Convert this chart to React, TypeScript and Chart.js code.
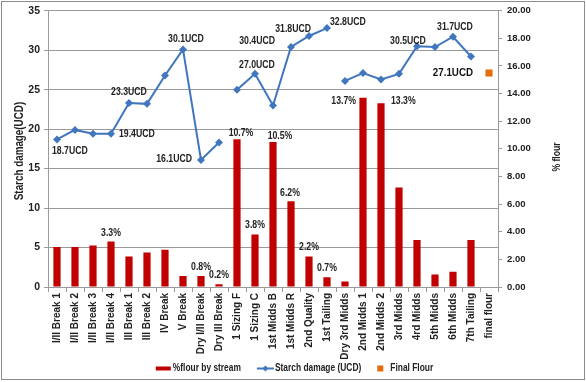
import React, { useEffect, useRef } from 'react';
import { Chart, registerables } from 'chart.js';
Chart.register(...registerables);

const categories = [
  'I/II Break 1', 'I/II Break 2', 'I/II Break 3', 'I/II Break 4', 'III Break 1', 'III Break 2',
  'IV Break', 'V Break', 'Dry I/II Break', 'Dry III Break', '1 Sizing F', '1 Sizing C',
  '1st Midds B', '1st Midds R', '2nd Quality', '1st Tailing', 'Dry 3rd Midds', '2nd Midds 1',
  '2nd Midds 2', '3rd Midds', '4rd Midds', '5th Midds', '6th Midds', '7th Tailing', 'final flour',
];

const flourPct = [2.9, 2.9, 3.0, 3.3, 2.2, 2.5, 2.7, 0.8, 0.8, 0.2, 10.7, 3.8, 10.5, 6.2, 2.2, 0.7, 0.4, 13.7, 13.3, 7.2, 3.4, 0.9, 1.1, 3.4, null];
const starchDamage = [18.7, 19.9, 19.4, 19.4, 23.3, 23.2, 26.8, 30.1, 16.1, 18.3, 25.0, 27.0, 23.0, 30.4, 31.8, 32.8, 26.1, 27.1, 26.3, 27.0, 30.5, 30.4, 31.7, 29.2, null];
const finalFlour = [null, null, null, null, null, null, null, null, null, null, null, null, null, null, null, null, null, null, null, null, null, null, null, null, 27.1];
const lineBreaksAfter = [9, 15];

const flourLabels = ['', '', '', '3.3%', '', '', '', '', '0.8%', '0.2%', '10.7%', '3.8%', '10.5%', '6.2%', '2.2%', '0.7%', '', '13.7%', '13.3%', '', '', '', '', '', ''];
const starchLabels = ['18.7UCD', '', '', '19.4UCD', '23.3UCD', '', '', '30.1UCD', '16.1UCD', '', '', '27.0UCD', '', '30.4UCD', '31.8UCD', '32.8UCD', '', '', '', '', '30.5UCD', '', '31.7UCD', '', ''];
const finalFlourLabels = ['', '', '', '', '', '', '', '', '', '', '', '', '', '', '', '', '', '', '', '', '', '', '', '', '27.1UCD'];

const leftTicksMax = 35;
const rightTicksMax = 20;
const leftTitle = 'Starch damage(UCD)';
const rightTitle = '% flour';

// label placement (offsets from the mark, alignment)
type Place = [number, number, CanvasTextAlign];
const flourPlace: Record<number, Place> = {
  3: [0, -8, 'center'], 8: [0, -9, 'center'], 9: [0, -9, 'center'], 10: [4, -6, 'center'],
  11: [0, -9, 'center'], 12: [7, -6, 'center'], 13: [-1, -8, 'center'], 14: [0, -9, 'center'],
  15: [0, -9, 'center'], 17: [-7, 4, 'right'], 18: [10, -2, 'left'],
};
const starchPlace: Record<number, Place> = {
  0: [-5, 12, 'left'], 3: [8, 0, 'left'], 4: [0, -11, 'center'], 7: [3, -10, 'center'],
  8: [-9, -1, 'right'], 11: [2, -9, 'center'], 13: [-16, -6, 'right'], 14: [2, -7, 'right'],
  15: [3, -6, 'left'], 20: [-9, -5, 'center'], 22: [2, -10, 'center'],
};
const finalPlace: Record<number, Place> = { 24: [-16, 0, 'right'] };

const FONT = "'Liberation Sans', Arial, sans-serif";
const BAR_COLOR = '#C00000';
const LINE_COLOR = '#3F76BE';
const SQUARE_COLOR = '#E46C0A';
const GRID = '#9a9a9a';
const TEXT = '#222222';

function narrowText(ctx: CanvasRenderingContext2D, t: string, x: number, y: number, sx: number, rot = 0) {
  ctx.save();
  ctx.translate(x, y);
  if (rot) ctx.rotate(rot);
  ctx.scale(sx, 1);
  ctx.fillText(t, 0, 0);
  ctx.restore();
}

const overlayPlugin = {
  id: 'overlay',
  beforeDraw(chart: any) {
    const { ctx, width, height } = chart;
    ctx.save();
    ctx.fillStyle = '#ffffff';
    ctx.fillRect(0, 0, width, height);
    ctx.restore();
  },
  afterDatasetsDraw(chart: any) {
    const ctx = chart.ctx as CanvasRenderingContext2D;
    ctx.save();
    ctx.fillStyle = TEXT;
    ctx.textBaseline = 'middle';
    ctx.font = `bold 10px ${FONT}`;
    const draw = (metaIdx: number, labels: string[], place: Record<number, Place>, sx: number) => {
      const meta = chart.getDatasetMeta(metaIdx);
      labels.forEach((t, i) => {
        if (!t || !place[i]) return;
        const el = meta.data[i];
        const [dx, dy, al] = place[i];
        ctx.textAlign = al;
        narrowText(ctx, t, el.x + dx, el.y + dy, sx);
      });
    };
    draw(0, flourLabels, flourPlace, 0.87);
    draw(1, starchLabels, starchPlace, 0.87);
    ctx.font = `bold 11.5px ${FONT}`;
    ctx.fillStyle = '#111';
    draw(2, finalFlourLabels, finalPlace, 0.85);
    ctx.restore();
  },
  afterDraw(chart: any) {
    const ctx = chart.ctx as CanvasRenderingContext2D;
    ctx.save();
    ctx.fillStyle = TEXT;
    ctx.textAlign = 'center';
    ctx.textBaseline = 'middle';
    // axis titles
    ctx.font = `bold 12px ${FONT}`;
    narrowText(ctx, leftTitle, 20, 151, 0.82, -Math.PI / 2);
    ctx.font = `bold 10.5px ${FONT}`;
    narrowText(ctx, rightTitle, 557, 157, 0.82, -Math.PI / 2);
    ctx.restore();

    // legend
    ctx.save();
    const sx = 0.84;
    ctx.font = `bold 10px ${FONT}`;
    ctx.textBaseline = 'middle';
    ctx.textAlign = 'left';
    const ds = chart.data.datasets;
    const items = [
      { kind: 'bar', text: ds[0].label, mw: 15, gap: 2 },
      { kind: 'line', text: ds[1].label, mw: 17, gap: 1 },
      { kind: 'square', text: ds[2].label, mw: 6, gap: 7 },
    ];
    const itemGap = 16;
    let total = 0;
    items.forEach((it, i) => {
      total += it.mw + it.gap + ctx.measureText(it.text).width * sx + (i < items.length - 1 ? itemGap : 0);
    });
    let x = 294.5 - total / 2;
    const y = 368.5;
    items.forEach((it) => {
      if (it.kind === 'bar') {
        ctx.fillStyle = BAR_COLOR;
        ctx.fillRect(x, y - 2, it.mw, 4);
      } else if (it.kind === 'line') {
        ctx.strokeStyle = LINE_COLOR;
        ctx.lineWidth = 2;
        ctx.beginPath();
        ctx.moveTo(x, y);
        ctx.lineTo(x + it.mw, y);
        ctx.stroke();
        const cx = x + it.mw / 2;
        ctx.fillStyle = LINE_COLOR;
        ctx.beginPath();
        ctx.moveTo(cx, y - 3);
        ctx.lineTo(cx + 3, y);
        ctx.lineTo(cx, y + 3);
        ctx.lineTo(cx - 3, y);
        ctx.closePath();
        ctx.fill();
      } else {
        ctx.fillStyle = SQUARE_COLOR;
        ctx.fillRect(x, y - 3, it.mw, 6);
      }
      x += it.mw + it.gap;
      ctx.fillStyle = TEXT;
      narrowText(ctx, it.text, x, y, sx);
      x += ctx.measureText(it.text).width * sx + itemGap;
    });
    // outer frame
    ctx.strokeStyle = '#8c8c8c';
    ctx.lineWidth = 1;
    ctx.strokeRect(1.5, 1.5, 583, 378);
    ctx.restore();
  },
};

export default function App() {
  const ref = useRef<HTMLCanvasElement>(null);
  useEffect(() => {
    document.body.style.margin = '0';
    const chart = new Chart(ref.current as HTMLCanvasElement, {
      type: 'bar',
      data: {
        labels: categories,
        datasets: [
          {
            type: 'bar',
            label: '%flour by stream',
            data: flourPct as any,
            backgroundColor: BAR_COLOR,
            yAxisID: 'y1',
            barPercentage: 0.5,
            categoryPercentage: 0.8,
            order: 3,
          },
          {
            type: 'line',
            label: 'Starch damage (UCD)',
            data: starchDamage as any,
            borderColor: LINE_COLOR,
            backgroundColor: LINE_COLOR,
            borderWidth: 2,
            pointStyle: 'rectRot',
            pointRadius: 4,
            pointBorderWidth: 0,
            yAxisID: 'y',
            spanGaps: false,
            segment: {
              borderColor: (c: any) => (lineBreaksAfter.includes(c.p0DataIndex) ? 'rgba(0,0,0,0)' : LINE_COLOR),
            },
            order: 1,
          } as any,
          {
            type: 'line',
            label: 'Final Flour',
            data: finalFlour as any,
            showLine: false,
            borderColor: SQUARE_COLOR,
            backgroundColor: SQUARE_COLOR,
            pointStyle: 'rect',
            pointRadius: 5,
            pointBorderWidth: 0,
            yAxisID: 'y',
            order: 0,
          } as any,
        ],
      },
      options: {
        responsive: false,
        animation: false,
        devicePixelRatio: 1,
        layout: { padding: { top: 8, bottom: 0, left: 0, right: 0 } },
        plugins: { legend: { display: false }, tooltip: { enabled: false } },
        scales: {
          x: {
            offset: true,
            grid: { drawOnChartArea: false, offset: true, tickLength: 5, color: GRID },
            border: { color: GRID },
            ticks: {
              autoSkip: false,
              maxRotation: 90,
              minRotation: 90,
              padding: 1,
              color: TEXT,
              font: { family: FONT, size: 10, weight: 'bold' },
            },
            afterFit: (s: any) => { s.height = 95; },
          },
          y: {
            position: 'left',
            min: 0,
            max: leftTicksMax,
            ticks: { stepSize: 5, padding: 4, color: TEXT, font: { family: FONT, size: 10.5, weight: 'bold' } },
            grid: { color: GRID, tickLength: 4 },
            border: { color: GRID },
            title: { display: false },
            afterFit: (s: any) => { s.width = 48; },
          },
          y1: {
            position: 'right',
            min: 0,
            max: rightTicksMax,
            ticks: {
              stepSize: 2,
              padding: 5,
              color: TEXT,
              font: { family: FONT, size: 9.5, weight: 'bold' },
              callback: (v: any) => Number(v).toFixed(2),
            },
            grid: { drawOnChartArea: false, color: GRID, tickLength: 4 },
            border: { color: GRID },
            afterFit: (s: any) => { s.width = 88; },
          },
        },
      } as any,
      plugins: [overlayPlugin],
    });
    return () => chart.destroy();
  }, []);
  return (
    <div style={{ width: 586, height: 382 }}>
      <canvas ref={ref} width={586} height={382} style={{ display: 'block' }} />
    </div>
  );
}
